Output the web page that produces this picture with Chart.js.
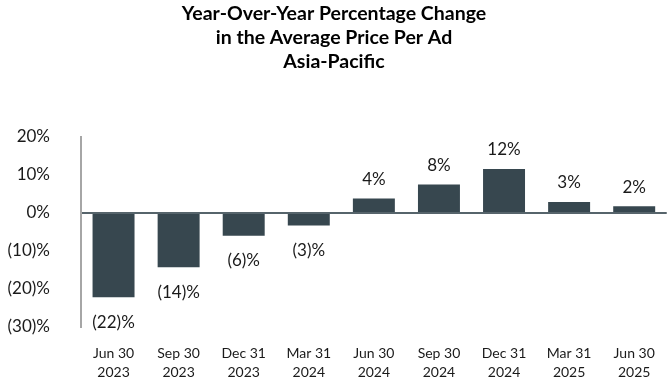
<!DOCTYPE html>
<html>
<head>
<meta charset="utf-8">
<script src="https://cdn.jsdelivr.net/npm/chart.js@4.4.1/dist/chart.umd.min.js"></script>
<style>
html,body{margin:0;padding:0;background:#fff;}
#wrap{width:672px;height:384px;position:relative;}
</style>
</head>
<body>
<div id="wrap"><canvas id="c" width="672" height="384"></canvas></div>
<script>
const titleLines = ['Year-Over-Year Percentage Change', 'in the Average Price Per Ad', 'Asia-Pacific'];
const categories = [['Jun 30','2023'],['Sep 30','2023'],['Dec 31','2023'],['Mar 31','2024'],['Jun 30','2024'],['Sep 30','2024'],['Dec 31','2024'],['Mar 31','2025'],['Jun 30','2025']];
const changePct = [-22.2, -14.3, -6.0, -3.3, 3.8, 7.5, 11.6, 2.9, 1.8];
const yTicks = [20, 10, 0, -10, -20, -30];

const FONT = 'Lato, "Open Sans", sans-serif';
function fmtPct(v){ const r = Math.round(Math.abs(v)); return v < 0 ? '(' + r + ')%' : r + '%'; }

const titlePlugin = {
  id: 'offsetTitle',
  afterDraw(chart){
    const ctx = chart.ctx;
    ctx.save();
    ctx.font = 'bold 19.5px ' + FONT;
    ctx.fillStyle = '#000';
    ctx.textAlign = 'center';
    ctx.textBaseline = 'alphabetic';
    titleLines.forEach((t, i) => ctx.fillText(t, 334, 19.5 + i * 24));
    ctx.restore();
  }
};

const labelPlugin = {
  id: 'barLabels',
  afterDatasetsDraw(chart){
    const ctx = chart.ctx;
    const meta = chart.getDatasetMeta(0);
    ctx.save();
    ctx.font = '17px ' + FONT;
    ctx.fillStyle = '#1a1a1a';
    ctx.textAlign = 'center';
    ctx.textBaseline = 'middle';
    meta.data.forEach((bar, i) => {
      const v = changePct[i];
      const y = v >= 0 ? bar.y - 19 : bar.y + 25;
      ctx.fillText(fmtPct(v), bar.x, y);
    });
    ctx.restore();
  }
};

new Chart(document.getElementById('c'), {
  type: 'bar',
  data: {
    labels: categories,
    datasets: [{
      data: changePct,
      backgroundColor: '#37474f',
      categoryPercentage: 1,
      barPercentage: 0.645
    }]
  },
  options: {
    responsive: false,
    animation: false,
    layout: { padding: { left: 0, right: 4, top: 137, bottom: 2 } },
    plugins: {
      legend: { display: false },
      tooltip: { enabled: false },
      title: { display: false }
    },
    scales: {
      x: {
        grid: { display: false, drawTicks: false },
        border: { display: false },
        afterFit(axis){ axis.height = 55; },
        ticks: {
          color: '#1a1a1a',
          font: { family: FONT, size: 14, lineHeight: 1.38 },
          padding: 17,
          maxRotation: 0,
          autoSkip: false
        }
      },
      y: {
        min: -30,
        max: 20,
        afterBuildTicks(axis){ axis.ticks = yTicks.map(v => ({ value: v })); },
        afterFit(axis){ axis.width = 81; },
        grid: {
          drawTicks: false,
          color: c => (c.tick && c.tick.value === 0) ? '#56646b' : 'rgba(0,0,0,0)',
          lineWidth: 2
        },
        border: { display: true, color: '#a6a6a6', width: 2 },
        ticks: {
          color: '#1a1a1a',
          font: { family: FONT, size: 17 },
          padding: 31,
          callback: v => fmtPct(v)
        }
      }
    }
  },
  plugins: [labelPlugin, titlePlugin]
});
</script>
</body>
</html>
